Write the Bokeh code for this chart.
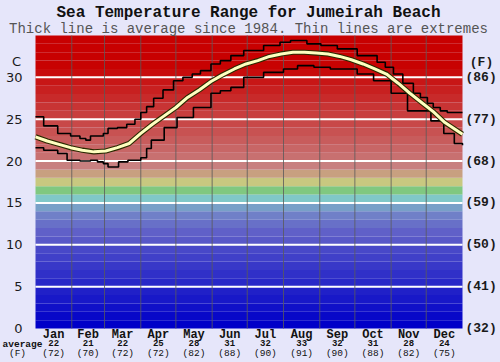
from bokeh.plotting import figure
from bokeh.models import ColumnDataSource, Range1d, GlobalInlineStyleSheet
from bokeh.core.properties import value
from bokeh.embed import file_html
from bokeh.resources import INLINE

# ---------------- data ----------------
months = ["Jan", "Feb", "Mar", "Apr", "May", "Jun", "Jul", "Aug", "Sep", "Oct", "Nov", "Dec"]
month_start_days = [0, 31, 59, 90, 120, 151, 181, 212, 243, 273, 304, 334]
month_mid_days = [15.5, 45, 74.5, 105, 135.5, 166, 196.5, 227.5, 258, 288.5, 319, 349.5]
avg_c = ["22", "21", "22", "25", "28", "31", "32", "33", "32", "31", "28", "24"]
avg_f = ["(72)", "(70)", "(72)", "(72)", "(82)", "(88)", "(90)", "(91)", "(90)", "(88)", "(82)", "(75)"]

avg_days = [0, 10, 20, 30, 40, 50, 60, 70, 80, 90, 100, 110, 120, 130, 140, 150, 160, 170,
            180, 190, 200, 210, 220, 230, 240, 250, 260, 270, 280, 290, 300, 310, 320, 330,
            340, 350, 365]
avg_temp = [22.9, 22.4, 22.0, 21.6, 21.3, 21.1, 21.2, 21.6, 22.1, 23.3, 24.4, 25.4, 26.4,
            27.6, 28.5, 29.5, 30.3, 31.0, 31.6, 32.0, 32.5, 32.8, 33.0, 33.0, 32.9, 32.8,
            32.5, 32.1, 31.6, 31.0, 30.4, 29.3, 28.1, 27.0, 25.9, 24.6, 23.2]

max_days = [0, 7, 19, 30, 38, 43, 47, 58, 62, 70, 78, 85, 90, 95, 101, 109, 118, 126, 134,
            141, 150, 158, 167, 178, 195, 209, 218, 232, 244, 258, 275, 292, 299, 306, 314,
            323, 329, 335, 340, 346, 352, 365]
max_temp = [25.3, 24.2, 23.3, 23.0, 22.7, 22.5, 23.0, 23.3, 23.9, 24.0, 24.4, 25.0, 25.8,
            26.5, 27.5, 28.5, 29.6, 30.0, 30.4, 30.8, 31.6, 32.0, 32.6, 33.2, 33.8, 34.2,
            34.4, 34.0, 33.8, 33.4, 32.6, 31.8, 31.2, 30.4, 29.3, 28.1, 27.6, 26.9, 26.4,
            26.0, 25.8, 25.8]

min_days = [0, 7, 19, 27, 38, 47, 53, 58, 62, 71, 79, 90, 95, 99, 110, 121, 135, 150, 158,
            167, 178, 195, 212, 224, 238, 252, 275, 289, 304, 318, 338, 349, 358, 365]
min_temp = [21.6, 21.3, 20.9, 20.1, 20.0, 20.1, 19.9, 19.7, 19.3, 19.9, 20.1, 20.4, 21.5,
            22.5, 24.0, 25.2, 26.4, 28.1, 28.4, 28.8, 30.0, 30.6, 31.0, 31.4, 31.2, 31.0,
            30.4, 29.6, 28.1, 26.0, 24.8, 23.3, 22.1, 21.9]

c_ticks = [0, 5, 10, 15, 20, 25, 30]
c_tick_labels = ["0", "5", "10", "15", "20", "25", "30"]
f_tick_labels = ["(32)", "(41)", "(50)", "(59)", "(68)", "(77)", "(86)"]

band_bottom = list(range(35))
band_colors = [
    "#0000C8", "#0808C8", "#1010C8", "#1818C8", "#2020C8", "#2828C8", "#3030C8", "#3838C8",
    "#4040C8", "#4848C8", "#5858C8", "#6060C8", "#6870C8", "#7080C8", "#78A0C8", "#80C8C8",
    "#80C880", "#C8C880", "#C8A080", "#C88080",
    "#C87070", "#C86666", "#C85C5C", "#C85252", "#C84848", "#C83E3E", "#C83434", "#C82A2A",
    "#C82020", "#C81616", "#C80C0C", "#C80202", "#C80000", "#C80000", "#C80000",
]

title = "Sea Temperature Range for Jumeirah Beach"
subtitle = "Thick line is average since 1984. Thin lines are extremes"

BG = "#E6E6FA"
DAYS = 365
TMAX = 35
# whole canvas is the frame; ranges extend beyond the chart area (plot area 35..462 x 35..328 px)
px_per_day = 427 / DAYS
px_per_deg = 293 / TMAX
x0 = -35 / px_per_day
x1 = (500 - 35) / px_per_day
y0 = -(362 - 328) / px_per_deg
y1 = 328 / px_per_deg


def py(pix):  # screen row -> temperature units
    return (328 - pix) / px_per_deg


def pxx(pix):  # screen column -> day units
    return (pix - 35) / px_per_day


p = figure(width=500, height=362, x_range=Range1d(x0, x1), y_range=Range1d(y0, y1),
           output_backend="svg", toolbar_location=None,
           min_border=0, background_fill_color=BG, border_fill_color=BG,
           outline_line_color=None)
p.stylesheets = [GlobalInlineStyleSheet(
    css="html,body{margin:0!important;padding:0;background:#E6E6FA;overflow:hidden}")]
p.xaxis.visible = False
p.yaxis.visible = False
p.xgrid.visible = False
p.ygrid.visible = False

# colour bands
p.quad(left=0, right=DAYS, bottom=band_bottom, top=[b + 1 for b in band_bottom],
       fill_color=band_colors, line_color=None)

# grid lines
p.segment(x0=0, x1=DAYS, y0=c_ticks[1:], y1=c_ticks[1:], line_color="white", line_width=2)
p.segment(x0=month_start_days[1:], x1=month_start_days[1:], y0=0, y1=TMAX,
          line_color="#5a5a5a", line_width=1, line_alpha=0.8)

# extremes
p.step(max_days, max_temp, mode="after", line_color="black", line_width=1.6)
p.step(min_days, min_temp, mode="after", line_color="black", line_width=1.6)

# average
p.line(avg_days, avg_temp, line_color="#2a2a00", line_width=5.2)
p.line(avg_days, avg_temp, line_color="#FFFFC0", line_width=3.0)

# left tick labels (Celsius)
p.text(x=[pxx(22)] * len(c_ticks), y=c_ticks, text=c_tick_labels, text_align="right",
       text_baseline="middle", text_font=value("DejaVu Sans"), text_font_size="13px",
       text_color="#1a1a1a")
p.text(x=[pxx(16)], y=[py(61)], text=["C"], text_align="center", text_baseline="middle",
       text_font=value("DejaVu Sans"), text_font_size="13px", text_color="#1a1a1a")

# right tick labels (Fahrenheit)
p.text(x=[pxx(465)] * len(c_ticks), y=c_ticks, text=f_tick_labels, text_align="left",
       text_baseline="middle", text_font=value("Liberation Mono"), text_font_style="bold",
       text_font_size="13px", text_color="#1a1a1a")
p.text(x=[pxx(481)], y=[py(62)], text=["(F)"], text_align="center", text_baseline="middle",
       text_font=value("Liberation Mono"), text_font_style="bold", text_font_size="13px",
       text_color="#1a1a1a")

# bottom labels
src = ColumnDataSource(dict(x=month_mid_days, m=months, c=avg_c, f=avg_f))
common = dict(text_align="center", text_baseline="middle", text_font=value("Liberation Mono"),
              text_color="#111111")
p.text(x="x", y=py(334), text="m", source=src, text_font_size="12px",
       text_font_style="bold", **common)
p.text(x="x", y=py(342.5), text="c", source=src, text_font_size="9px",
       text_font_style="bold", **common)
p.text(x="x", y=py(352.5), text="f", source=src, text_font_size="9.5px", **common)
p.text(x=[pxx(22)], y=[py(344)], text=["average"], text_font_size="9.5px",
       text_font_style="bold", **common)
p.text(x=[pxx(17)], y=[py(352.5)], text=["(F)"], text_font_size="9.5px", **common)

# titles
p.text(x=[pxx(248)], y=[py(12)], text=[title], text_font_size="16px", text_font_style="bold",
       **common)
p.text(x=[pxx(248)], y=[py(28)], text=[subtitle], text_font_size="14px",
       text_align="center", text_baseline="middle", text_font=value("Liberation Mono"),
       text_color="#555555")

open("out.html", "w").write(file_html(p, INLINE))
